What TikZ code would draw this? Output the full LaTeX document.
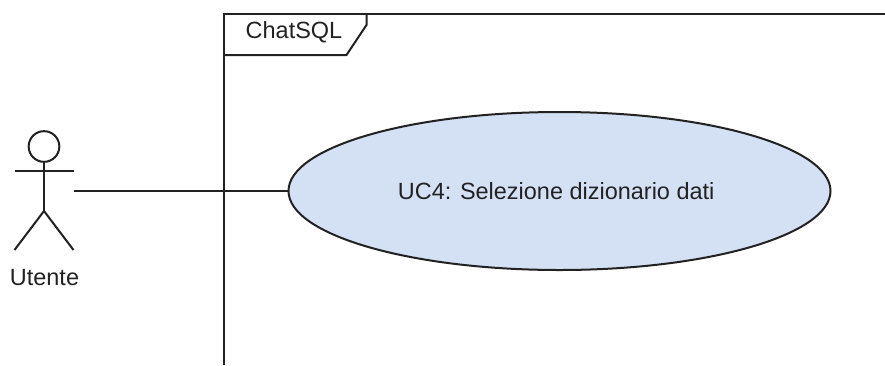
\documentclass[tikz,border=0pt]{standalone}
\usepackage{fontspec}
\setmainfont{Liberation Sans}
\usetikzlibrary{shapes.geometric}
\definecolor{ucfill}{HTML}{D4E1F5}
\definecolor{ink}{HTML}{222222}
\tikzset{
  line/.style={draw=ink,line width=1.5pt},
  lbl/.style={inner sep=0pt,font=\fontsize{17.6}{20}\selectfont,text=ink}
}
\begin{document}
\begin{tikzpicture}[x=0.75pt,y=-0.75pt]
\useasboundingbox[fill=white] (0,0) rectangle (885,365);
% frame
\coordinate (ftl) at (223.5,13.5);
\coordinate (ftr) at (885,13.5);
\coordinate (fbl) at (223.5,365);
\draw[line] (ftr) -- (ftl) -- (fbl);
\coordinate (t1) at (366.5,13.5);
\coordinate (t2) at (366.5,25);
\coordinate (t3) at (346.5,55);
\coordinate (t4) at (223.5,55);
\draw[line] (t1) -- (t2) -- (t3) -- (t4);
\node[lbl] (title) at (294,32) {ChatSQL};
% use case
\node[ellipse,line,fill=ucfill,minimum width=406.5pt,minimum height=118.5pt,inner sep=0pt,lbl] (uc) at (559.5,191) {UC4: Selezione dizionario dati\kern5pt};
% actor
\node[circle,line,minimum size=23pt,inner sep=0pt] (head) at (44,146.5) {};
\coordinate (armL) at (14.5,171);
\coordinate (armR) at (73.5,171);
\coordinate (hip) at (44,211);
\coordinate (legL) at (14.5,250);
\coordinate (legR) at (73.5,250);
\draw[line] (head.south) -- (hip);
\draw[line] (armL) -- (armR);
\draw[line] (legL) -- (hip) -- (legR);
\node[lbl] (actor) at (44.5,278) {Utente};
% connector
\coordinate (start) at (73.5,191);
\draw[line] (start) -- (uc.west);
\end{tikzpicture}
\end{document}
